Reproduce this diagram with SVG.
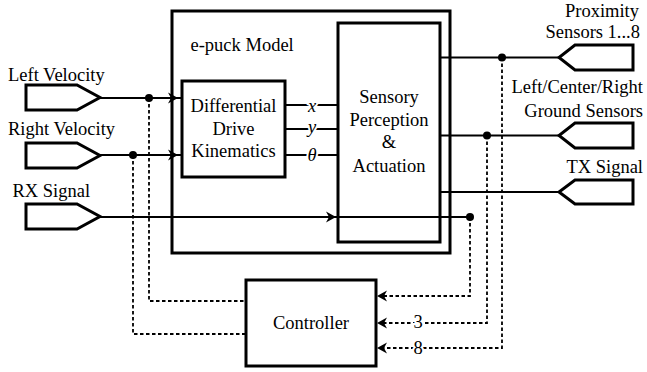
<svg xmlns="http://www.w3.org/2000/svg" width="647" height="372" viewBox="0 0 647 372">
<style>
text{font-family:"Liberation Serif","Times New Roman",serif;font-size:18.5px;fill:#000}
.c{text-anchor:middle}
.r{text-anchor:end}
.box{fill:none;stroke:#000;stroke-width:3}
.port{fill:#fff;stroke:#000;stroke-width:3;stroke-linejoin:miter}
.ln{fill:none;stroke:#000;stroke-width:2.2}
.dl{fill:none;stroke:#000;stroke-width:1.8;stroke-dasharray:3.5,2.5}
.lbl{paint-order:stroke;stroke:#fff;stroke-width:4}
.it{font-style:italic}
</style>
<defs>
<path id="ah" d="M0,0 L-10,-5.5 L-7,0 L-10,5.5 Z" fill="#000"/>
</defs>
<rect width="647" height="372" fill="#fff"/>
<g id="connectors">
<line class="ln" x1="100" y1="98" x2="182" y2="98"/>
<line class="ln" x1="100" y1="155" x2="182" y2="155"/>
<line class="ln" x1="100" y1="217" x2="470" y2="217"/>
<line class="ln" x1="285" y1="105" x2="338" y2="105"/>
<line class="ln" x1="285" y1="129" x2="338" y2="129"/>
<line class="ln" x1="285" y1="155" x2="338" y2="155"/>
<line class="ln" x1="440" y1="57.5" x2="559" y2="57.5"/>
<line class="ln" x1="440" y1="135.5" x2="559" y2="135.5"/>
<line class="ln" x1="440" y1="192" x2="559" y2="192"/>
<use href="#ah" transform="translate(178,98)"/>
<use href="#ah" transform="translate(178,155)"/>
<use href="#ah" transform="translate(336,217)"/>
<polyline class="dl" points="149,98 149,301 246,301"/>
<polyline class="dl" points="133,155 133,334 246,334"/>
<polyline class="dl" points="470,217 470,296 380,296"/>
<polyline class="dl" points="487,135.5 487,323 380,323"/>
<polyline class="dl" points="502,57.5 502,348 380,348"/>
<use href="#ah" transform="translate(377,296) rotate(180)"/>
<use href="#ah" transform="translate(377,323) rotate(180)"/>
<use href="#ah" transform="translate(377,348) rotate(180)"/>
<circle cx="149" cy="98" r="4"/>
<circle cx="133" cy="155" r="4"/>
<circle cx="470" cy="217" r="4"/>
<circle cx="487" cy="135.5" r="4"/>
<circle cx="502" cy="57.5" r="4"/>
<text class="c it lbl" x="312" y="112">x</text>
<text class="c it lbl" x="312" y="133">y</text>
<text class="c it lbl" x="312" y="161">θ</text>
<text class="c lbl" x="418" y="328">3</text>
<text class="c lbl" x="418" y="354">8</text>
</g>
<g id="epuck">
<rect class="box" x="172" y="11" width="278" height="242"/>
<text x="190.5" y="51">e-puck Model</text>
</g>
<g id="diffdrive">
<rect class="box" x="182" y="81" width="103" height="96"/>
<text class="c" x="233.5" y="112">Differential</text>
<text class="c" x="233.5" y="134.5">Drive</text>
<text class="c" x="233.5" y="157">Kinematics</text>
</g>
<g id="sensory">
<rect class="box" x="338" y="23" width="102" height="219"/>
<text class="c" x="389" y="103">Sensory</text>
<text class="c" x="389" y="126">Perception</text>
<text class="c" x="389" y="148">&amp;</text>
<text class="c" x="389" y="172">Actuation</text>
</g>
<g id="controller">
<rect class="box" x="246" y="280" width="130" height="86"/>
<text class="c" x="311" y="329">Controller</text>
</g>
<g id="leftvel">
<polygon class="port" points="26,85 77,85 100,97.5 77,110 26,110"/>
<text x="8" y="81">Left Velocity</text>
</g>
<g id="rightvel">
<polygon class="port" points="26,143 77,143 100,155.5 77,168 26,168"/>
<text x="8" y="135">Right Velocity</text>
</g>
<g id="rx">
<polygon class="port" points="26,204 77,204 100,216.5 77,229 26,229"/>
<text x="12.5" y="197">RX Signal</text>
</g>
<g id="proximity">
<polygon class="port" points="633,45 575,45 559,57.5 575,70 633,70"/>
<text class="r" x="639" y="17">Proximity</text>
<text class="r" x="640" y="38">Sensors 1...8</text>
</g>
<g id="ground">
<polygon class="port" points="633,123 575,123 559,135.5 575,148 633,148"/>
<text class="r" x="643" y="93">Left/Center/Right</text>
<text class="r" x="643" y="117">Ground Sensors</text>
</g>
<g id="tx">
<polygon class="port" points="633,180 575,180 559,192 575,204 633,204"/>
<text class="r" x="643" y="173">TX Signal</text>
</g>
</svg>
